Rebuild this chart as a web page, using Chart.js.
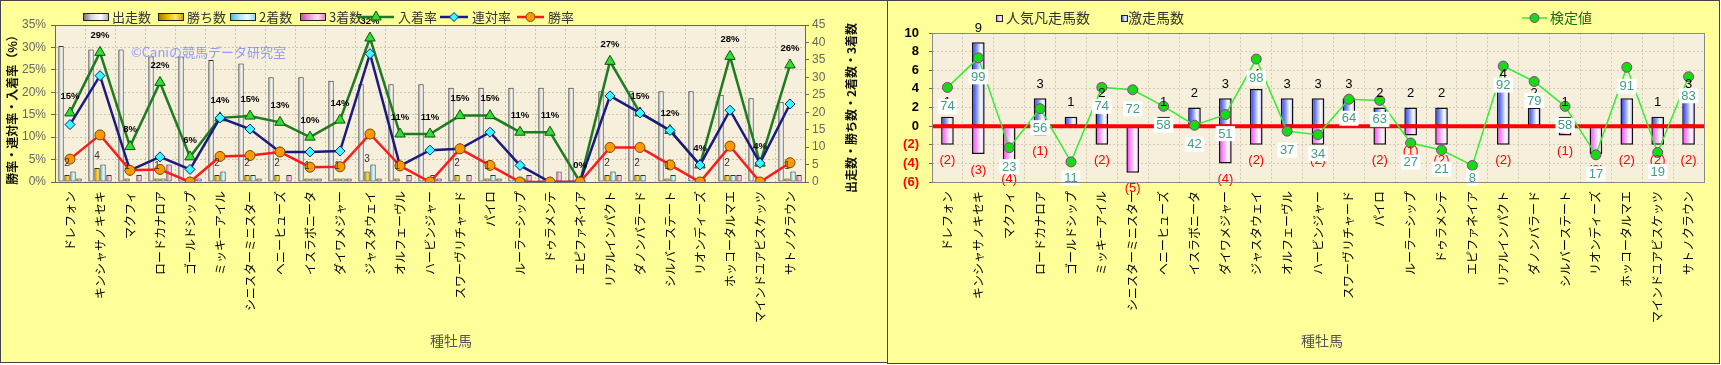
<!DOCTYPE html>
<html>
<head>
<meta charset="utf-8">
<script src="https://cdn.jsdelivr.net/npm/chart.js@4.4.1/dist/chart.umd.min.js"></script>
<style>
  body { margin: 0; background: #fff; }
  .box { position: absolute; top: 0; border: 1px solid #444; background: #ffff99; }
  canvas { display: block; }
</style>
</head>
<body>
<div class="box" style="left:0;width:886px;height:361px;"><canvas id="leftChart" width="886" height="361"></canvas></div>
<div class="box" style="left:887px;width:831px;height:362px;"><canvas id="rightChart" width="831" height="362"></canvas></div>
<script>
/* 種牡馬 */
const horses = ['ドレフォン','キンシャサノキセキ','マクフィ','ロードカナロア','ゴールドシップ','ミッキーアイル','シニスターミニスター','ヘニーヒューズ','イスラボニータ','ダイワメジャー','ジャスタウェイ','オルフェーヴル','ハービンジャー','スワーヴリチャード','パイロ','ルーラーシップ','ドゥラメンテ','エピファネイア','リアルインパクト','ダノンバラード','シルバーステート','リオンディーズ','ホッコータルマエ','マインドユアビスケッツ','サトノクラウン'];

/* 左: 出走数・着数 */
const starts  = [39, 38, 38, 36, 36, 35, 34, 30, 30, 29, 28, 28, 28, 27, 27, 27, 27, 27, 26, 26, 26, 26, 25, 24, 23];
const wins    = [2, 4, 1, 1, 0, 2, 2, 2, 1, 1, 3, 1, 0, 2, 1, 0, 0, 0, 2, 2, 1, 0, 2, 0, 1];
const seconds = [3, 5, 0, 1, 1, 3, 2, 0, 1, 1, 5, 0, 2, 0, 2, 1, 0, 0, 3, 2, 2, 1, 2, 1, 3];
const thirds  = [1, 2, 2, 5, 1, 0, 1, 2, 1, 1, 1, 2, 1, 2, 1, 2, 3, 0, 2, 0, 0, 0, 2, 0, 2];

/* 左: 率 (%) */
const placeRate  = [15.4, 28.9, 7.9, 22.2, 5.6, 14.3, 14.7, 13.3, 10.0, 13.8, 32.1, 10.7, 10.7, 14.8, 14.8, 11.1, 11.1, 0, 26.9, 15.4, 11.5, 3.8, 28.0, 4.2, 26.1];
const rentaiRate = [12.8, 23.7, 2.6, 5.6, 2.8, 14.3, 11.8, 6.7, 6.7, 6.9, 28.6, 3.6, 7.1, 7.4, 11.1, 3.7, 0, 0, 19.2, 15.4, 11.5, 3.8, 16.0, 4.2, 17.4];
const winRate    = [5.1, 10.5, 2.6, 2.8, 0, 5.7, 5.9, 6.7, 3.3, 3.4, 10.7, 3.6, 0, 7.4, 3.7, 0, 0, 0, 7.7, 7.7, 3.8, 0, 8.0, 0, 4.3];

/* 右: 激走・凡走・検定値 */
const darkHorse = [1, 9, 0, 3, 1, 2, 0, 1, 2, 3, 4, 3, 3, 3, 2, 2, 2, 0, 4, 2, 1, 0, 3, 1, 3];
const flopHorse = [-2, -3, -4, -1, 0, -2, -5, 0, 0, -4, -2, 0, -2, 0, -2, -1, -2, 0, -2, 0, -1, -3, -2, -2, -2];
const testValue = [74, 99, 23, 56, 11, 74, 72, 58, 42, 51, 98, 37, 34, 64, 63, 27, 21, 8, 92, 79, 58, 17, 91, 19, 83];

/* 目盛 */
const rateTicks  = [0, 5, 10, 15, 20, 25, 30, 35];
const countTicks = [0, 5, 10, 15, 20, 25, 30, 35, 40, 45];
const diffTicks  = [-6, -4, -2, 0, 2, 4, 6, 8, 10];
const testRange  = [-6, 120];

Chart.defaults.font.family = '"Noto Sans CJK JP", "Noto Sans", sans-serif';

const JP = '"Noto Sans CJK JP", sans-serif';
const NUM = '"Liberation Sans", Arial, sans-serif';

// 4色の横グラデーション
function makeGrad(ctx, x0, x1, cols) {
	const g = ctx.createLinearGradient(x0, 0, x1, 0);
	g.addColorStop(0, cols[0]);
	g.addColorStop(0.35, cols[1]);
	g.addColorStop(0.7, cols[2]);
	g.addColorStop(1, cols[3]);
	return g;
}

// 棒の横グラデーション
function hGrad(c, cols) {
	const el = c.element;
	if (!el || !isFinite(el.x) || !el.width) return cols[1];
	return makeGrad(c.chart.ctx, el.x - el.width / 2, el.x + el.width / 2, cols);
}

const startCol  = ['#6e6e6e', '#d8d8d8', '#ffffff', '#b4b4b4'];
const winCol    = ['#a07000', '#e6b400', '#ffe666', '#d9a000'];
const secondCol = ['#3fb8d4', '#9fe6f4', '#eefdff', '#8adbea'];
const thirdCol  = ['#d040a8', '#ee98d4', '#ffe0f4', '#e688c8'];
const flopCol   = ['#ff33ff', '#ff99ff', '#ffffff', '#ffaaff'];
const darkCol   = ['#2233ff', '#8090ff', '#ffffff', '#a0b0ff'];

function swatch(ctx, x, y, w, h, cols) {
	ctx.fillStyle = makeGrad(ctx, x, x + w, cols);
	ctx.fillRect(x, y, w, h);
	ctx.strokeStyle = '#222';
	ctx.lineWidth = 1;
	ctx.strokeRect(x + 0.5, y + 0.5, w, h);
}

function vText(ctx, text, x, y, font, color) {
	ctx.save();
	ctx.translate(x, y);
	ctx.rotate(-Math.PI / 2);
	ctx.font = font;
	ctx.fillStyle = color;
	ctx.textAlign = 'center';
	ctx.textBaseline = 'middle';
	ctx.fillText(text, 0, 0);
	ctx.restore();
}

function fillArea(chart, color) {
	const a = chart.chartArea;
	chart.ctx.save();
	chart.ctx.fillStyle = color;
	chart.ctx.fillRect(a.left, a.top, a.right - a.left, a.bottom - a.top);
	chart.ctx.restore();
}

function strokeArea(chart, color) {
	const a = chart.chartArea;
	chart.ctx.save();
	chart.ctx.strokeStyle = color;
	chart.ctx.lineWidth = 1;
	chart.ctx.strokeRect(Math.round(a.left) + 0.5, Math.round(a.top) + 0.5, Math.round(a.right - a.left), Math.round(a.bottom - a.top));
	chart.ctx.restore();
}

/* 左グラフの飾り */
const leftDeco = {
	id: 'leftDeco',
	beforeDraw(chart) {
		fillArea(chart, '#f6efdc');
	},
	afterDatasetsDraw(chart) {
		const ctx = chart.ctx;
		ctx.save();
		// 透かし
		ctx.font = '13px ' + JP;
		ctx.fillStyle = 'rgba(110,130,255,0.75)';
		ctx.textAlign = 'left';
		ctx.textBaseline = 'middle';
		ctx.fillText('©Caniの競馬データ研究室', 130, 51);

		// 勝ち数ラベル
		const winMeta = chart.getDatasetMeta(1);
		ctx.font = '10px ' + NUM;
		ctx.fillStyle = '#333';
		ctx.textAlign = 'center';
		wins.forEach(function(v, i) {
			if (v > 0) {
				const el = winMeta.data[i];
				ctx.fillText(String(v), el.x, el.y - 12);
			}
		});

		// 入着率ラベル
		const placeMeta = chart.getDatasetMeta(4);
		ctx.font = 'bold 9.5px ' + NUM;
		ctx.fillStyle = '#000';
		placeRate.forEach(function(v, i) {
			const el = placeMeta.data[i];
			ctx.fillText(Math.round(v) + '%', el.x, el.y - 17);
		});
		ctx.restore();
	},
	afterDraw(chart) {
		const ctx = chart.ctx;
		strokeArea(chart, '#666');
		ctx.save();
		vText(ctx, '勝率・連対率・入着率（%）', 11, 106, 'bold 12px ' + JP, '#111');
		vText(ctx, '出走数・勝ち数・2着数・3着数', 850, 107, 'bold 12px ' + JP, '#111');

		ctx.font = '14px ' + JP;
		ctx.fillStyle = '#555';
		ctx.textAlign = 'center';
		ctx.textBaseline = 'middle';
		ctx.fillText('種牡馬', 450, 340);

		// 凡例
		ctx.font = '13px ' + JP;
		ctx.fillStyle = '#333';
		ctx.textAlign = 'left';
		const bars = [[82, '出走数', startCol], [157, '勝ち数', winCol], [229, '2着数', secondCol], [299, '3着数', thirdCol]];
		bars.forEach(function(b) {
			swatch(ctx, b[0], 12, 25, 7, b[2]);
			ctx.fillStyle = '#333';
			ctx.fillText(b[1], b[0] + 29, 16);
		});
		const lines = [
			[357, 36, '入着率', '#1e7b1e', 'triangle', '#33dd33', '#0a5a0a', 6],
			[439, 28, '連対率', '#1a1a80', 'rectRot', '#33ffff', '#1a1a80', 4.5],
			[516, 27, '勝率', '#ff1a1a', 'circle', '#ff9900', '#7a4a00', 4.5]
		];
		lines.forEach(function(l) {
			ctx.strokeStyle = l[3];
			ctx.lineWidth = 2.5;
			ctx.beginPath();
			ctx.moveTo(l[0], 16);
			ctx.lineTo(l[0] + l[1], 16);
			ctx.stroke();
			ctx.fillStyle = l[5];
			ctx.strokeStyle = l[6];
			ctx.lineWidth = 1;
			Chart.helpers.drawPoint(ctx, { pointStyle: l[4], radius: l[7], borderWidth: 1 }, l[0] + l[1] / 2, 16);
			ctx.fillStyle = '#333';
			ctx.fillText(l[2], l[0] + l[1] + 4, 16);
		});
		ctx.restore();
	}
};

/* 右グラフの飾り */
const rightDeco = {
	id: 'rightDeco',
	beforeDraw(chart) {
		fillArea(chart, '#f6efdc');
	},
	beforeDatasetDraw(chart, args) {
		// 0 の赤線 (棒の上、検定値の下)
		if (args.meta.type !== 'line') return;
		const a = chart.chartArea;
		const y0 = chart.scales.y.getPixelForValue(0);
		const ctx = chart.ctx;
		ctx.save();
		ctx.strokeStyle = '#ff0000';
		ctx.lineWidth = 4;
		ctx.beginPath();
		ctx.moveTo(a.left, y0);
		ctx.lineTo(a.right, y0);
		ctx.stroke();
		ctx.restore();
	},
	afterDatasetsDraw(chart) {
		const ctx = chart.ctx;
		const a = chart.chartArea;
		ctx.save();
		ctx.textAlign = 'center';
		ctx.textBaseline = 'middle';

		const flopMeta = chart.getDatasetMeta(0);
		const darkMeta = chart.getDatasetMeta(1);
		ctx.font = '13px ' + NUM;
		darkHorse.forEach(function(v, i) {
			if (v > 0) {
				const el = darkMeta.data[i];
				ctx.fillStyle = '#000';
				ctx.fillText(String(v), el.x, el.y - 14);
			}
		});
		flopHorse.forEach(function(v, i) {
			if (v < 0) {
				const el = flopMeta.data[i];
				ctx.fillStyle = '#ff0000';
				ctx.fillText('(' + (-v) + ')', el.x, el.y + 16);
			}
		});

		// 検定値ラベル
		const testMeta = chart.getDatasetMeta(2);
		ctx.font = '13px ' + NUM;
		testValue.forEach(function(v, i) {
			const el = testMeta.data[i];
			const t = String(v);
			const w = ctx.measureText(t).width + 5;
			const y = Math.min(el.y + 19, a.bottom - 4);
			ctx.fillStyle = '#ffffff';
			ctx.fillRect(el.x - w / 2, y - 7.5, w, 15);
			ctx.fillStyle = '#3f9f7f';
			ctx.fillText(t, el.x, y + 0.5);
		});
		ctx.restore();
	},
	afterDraw(chart) {
		const ctx = chart.ctx;
		strokeArea(chart, '#888');
		ctx.save();
		ctx.font = '14px ' + JP;
		ctx.fillStyle = '#555';
		ctx.textAlign = 'center';
		ctx.textBaseline = 'middle';
		ctx.fillText('種牡馬', 434, 340);

		// 凡例
		ctx.textAlign = 'left';
		ctx.font = '14px ' + JP;
		swatch(ctx, 108, 14, 6, 6, flopCol);
		ctx.fillStyle = '#333';
		ctx.fillText('人気凡走馬数', 118, 17);
		swatch(ctx, 233, 14, 6, 6, darkCol);
		ctx.fillStyle = '#333';
		ctx.fillText('激走馬数', 240, 17);

		ctx.strokeStyle = '#33ee33';
		ctx.lineWidth = 1.5;
		ctx.beginPath();
		ctx.moveTo(634, 17);
		ctx.lineTo(659, 17);
		ctx.stroke();
		ctx.fillStyle = '#11dd11';
		ctx.strokeStyle = '#993399';
		ctx.lineWidth = 1;
		Chart.helpers.drawPoint(ctx, { pointStyle: 'circle', radius: 4.5, borderWidth: 1 }, 646.5, 17);
		ctx.fillStyle = '#1a6a1a';
		ctx.fillText('検定値', 662, 17);
		ctx.restore();
	}
};

// 左: 出走数・着数・率
var leftChart = new Chart(document.getElementById('leftChart'), {
	type: 'bar',
	data: {
		labels: horses,
		datasets: [
			{ label: '出走数', data: starts, yAxisID: 'y1', order: 3, backgroundColor: c => hGrad(c, startCol), borderColor: '#333', borderWidth: 1, borderSkipped: false },
			{ label: '勝ち数', data: wins, yAxisID: 'y1', order: 3, backgroundColor: c => hGrad(c, winCol), borderColor: '#333', borderWidth: 1, borderSkipped: false },
			{ label: '2着数', data: seconds, yAxisID: 'y1', order: 3, backgroundColor: c => hGrad(c, secondCol), borderColor: '#333', borderWidth: 1, borderSkipped: false },
			{ label: '3着数', data: thirds, yAxisID: 'y1', order: 3, backgroundColor: c => hGrad(c, thirdCol), borderColor: '#333', borderWidth: 1, borderSkipped: false },
			{ type: 'line', label: '入着率', data: placeRate, yAxisID: 'y', order: 2, borderColor: '#1e7b1e', borderWidth: 2.5, pointStyle: 'triangle', pointRadius: 6, pointBackgroundColor: '#33dd33', pointBorderColor: '#0a5a0a', pointBorderWidth: 1 },
			{ type: 'line', label: '連対率', data: rentaiRate, yAxisID: 'y', order: 1, borderColor: '#1a1a80', borderWidth: 2.5, pointStyle: 'rectRot', pointRadius: 5, pointBackgroundColor: '#33ffff', pointBorderColor: '#1a1a80', pointBorderWidth: 1 },
			{ type: 'line', label: '勝率', data: winRate, yAxisID: 'y', order: 0, borderColor: '#ff1a1a', borderWidth: 2.5, pointStyle: 'circle', pointRadius: 5, pointBackgroundColor: '#ff9900', pointBorderColor: '#7a4a00', pointBorderWidth: 1 }
		]
	},
	options: {
		responsive: false,
		animation: false,
		devicePixelRatio: 1,
		layout: { padding: { top: 24, left: 0, right: 0, bottom: 0 } },
		datasets: { bar: { categoryPercentage: 0.8, barPercentage: 0.9 } },
		plugins: { legend: { display: false }, tooltip: { enabled: false } },
		scales: {
			x: {
				grid: { color: '#cdc4ae', drawTicks: false },
				border: { color: '#555', dash: [2, 2] },
				ticks: { autoSkip: false, minRotation: 90, maxRotation: 90, padding: 9, color: '#000', font: { size: 12, family: JP } },
				afterFit(s) { s.height = 180; }
			},
			y: {
				position: 'left',
				min: 0, max: 35,
				afterBuildTicks(s) { s.ticks = rateTicks.map(v => ({ value: v })); },
				grid: { color: '#cdc4ae', tickColor: '#666', tickLength: 4 },
				border: { color: '#555', dash: [2, 2] },
				ticks: { callback: v => v + '%', color: '#666', padding: 5, font: { size: 12, family: NUM } },
				afterFit(s) { s.width = 54; }
			},
			y1: {
				position: 'right',
				min: 0, max: 45,
				afterBuildTicks(s) { s.ticks = countTicks.map(v => ({ value: v })); },
				grid: { drawOnChartArea: false, tickColor: '#666', tickLength: 4 },
				border: { color: '#555' },
				ticks: { color: '#666', padding: 3, font: { size: 12, family: NUM } },
				afterFit(s) { s.width = 82; }
			}
		}
	},
	plugins: [leftDeco]
});
leftChart.update();

// 右: 激走・凡走・検定値
var rightChart = new Chart(document.getElementById('rightChart'), {
	type: 'bar',
	data: {
		labels: horses,
		datasets: [
			{ label: '人気凡走馬数', data: flopHorse, order: 2, backgroundColor: c => hGrad(c, flopCol), borderColor: '#111', borderWidth: 1.5, borderSkipped: false },
			{ label: '激走馬数', data: darkHorse, order: 2, backgroundColor: c => hGrad(c, darkCol), borderColor: '#111', borderWidth: 1.5, borderSkipped: false },
			{ type: 'line', label: '検定値', data: testValue, yAxisID: 'y2', order: 0, borderColor: '#33ee33', borderWidth: 1.5, pointRadius: 5, pointBackgroundColor: '#11dd11', pointBorderColor: '#993399', pointBorderWidth: 1 }
		]
	},
	options: {
		responsive: false,
		animation: false,
		devicePixelRatio: 1,
		layout: { padding: { top: 32, left: 0, right: 15, bottom: 0 } },
		datasets: { bar: { categoryPercentage: 1, barPercentage: 0.41 } },
		plugins: { legend: { display: false }, tooltip: { enabled: false } },
		scales: {
			x: {
				stacked: true,
				grid: { color: '#d3cbb6', drawTicks: false },
				border: { color: '#777', dash: [2, 2] },
				ticks: { autoSkip: false, minRotation: 90, maxRotation: 90, padding: 9, color: '#000', font: { size: 12, family: JP } },
				afterFit(s) { s.height = 181; }
			},
			y: {
				stacked: true,
				min: -6, max: 10,
				afterBuildTicks(s) { s.ticks = diffTicks.map(v => ({ value: v })); },
				grid: { color: '#d3cbb6', tickColor: '#666', tickLength: 3 },
				border: { color: '#777', dash: [2, 2] },
				ticks: {
					callback: v => v < 0 ? '(' + (-v) + ')' : String(v),
					color: c => c.tick && c.tick.value < 0 ? '#ff0000' : '#000',
					padding: 10,
					font: { size: 13, weight: 'bold', family: NUM }
				},
				afterFit(s) { s.width = 44; }
			},
			y2: { display: false, min: testRange[0], max: testRange[1] }
		}
	},
	plugins: [rightDeco]
});
rightChart.update();
</script>
</body>
</html>
